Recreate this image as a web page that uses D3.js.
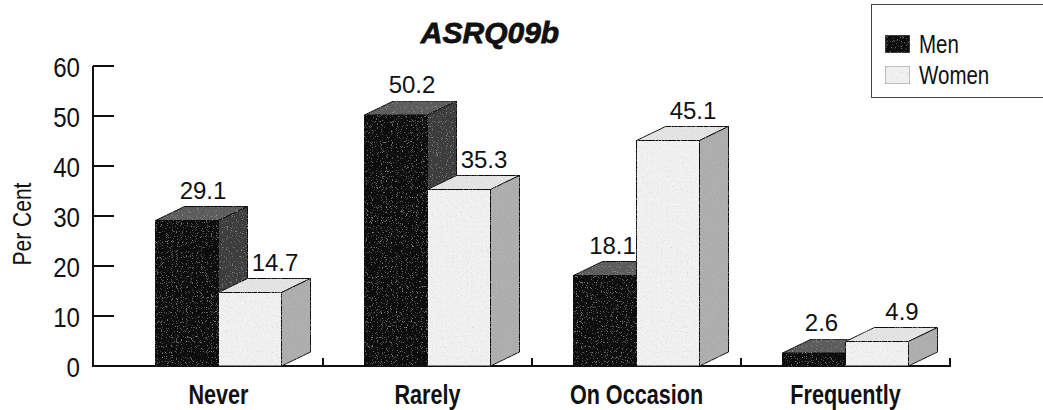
<!DOCTYPE html>
<html>
<head>
<meta charset="utf-8">
<script src="https://cdn.jsdelivr.net/npm/d3@7/dist/d3.min.js"></script>
<style>
  html, body { margin: 0; padding: 0; background: #fff; }
  svg { display: block; }
  text { font-family: "Liberation Sans", Arial, Helvetica, sans-serif; }
</style>
</head>
<body>
<svg id="chart" width="1043" height="410"></svg>
<script>
// Survey item ASRQ09b: share of respondents per answer, by sex
const categories = ["Never", "Rarely", "On Occasion", "Frequently"];
const seriesNames = ["Men", "Women"];
const menValues = [29.1, 50.2, 18.1, 2.6];
const womenValues = [14.7, 35.3, 45.1, 4.9];
const yTicks = [0, 10, 20, 30, 40, 50, 60];
const chartTitle = "ASRQ09b";
const yLabel = "Per Cent";

const svg = d3.select("#chart");

// squeeze text horizontally to mimic a condensed typeface
function condense(sel, k) {
  sel.each(function () {
    const w = this.getComputedTextLength();
    d3.select(this).attr("textLength", w * k).attr("lengthAdjust", "spacingAndGlyphs");
  });
}

// grain filter giving the faces a printed, speckled look
const defs = svg.append("defs");
function grain(id, seed, tone, strength, cut) {
  const f = defs.append("filter").attr("id", id)
    .attr("x", 0).attr("y", 0).attr("width", 1).attr("height", 1);
  f.append("feTurbulence").attr("type", "fractalNoise")
    .attr("baseFrequency", 1.2).attr("numOctaves", 1).attr("seed", seed).attr("result", "noise");
  f.append("feColorMatrix").attr("in", "noise").attr("type", "matrix")
    .attr("values", `0 0 0 0 ${tone}  0 0 0 0 ${tone}  0 0 0 0 ${tone}  ${strength} 0 0 0 ${-strength * cut}`)
    .attr("result", "specks");
  f.append("feComposite").attr("in", "specks").attr("in2", "SourceGraphic").attr("operator", "in").attr("result", "clipped");
  const m = f.append("feMerge");
  m.append("feMergeNode").attr("in", "SourceGraphic");
  m.append("feMergeNode").attr("in", "clipped");
}
grain("grainDark", 4, 0.45, 3, 0.6);
grain("grainLight", 7, 0.55, 2, 0.55);

const x = d3.scaleBand().domain(categories).range([114, 950]).paddingInner(0).paddingOuter(0);
const y = d3.scaleLinear().domain([0, 60]).range([366, 66]);

const barW = 63;          // front face width
const dx = 29, dy = -14;  // 3D depth offset

const styles = {
  Men:   { front: "#111111", top: "#5c5c5c", side: "#3c3c3c", stroke: "#111", filter: "url(#grainDark)" },
  Women: { front: "#f1f1f1", top: "#e4e4e4", side: "#adadad", stroke: "#111", filter: "url(#grainLight)" }
};

const rows = categories.map((c, i) => ({ cat: c, Men: menValues[i], Women: womenValues[i] }));

// axes
const axisG = svg.append("g");
axisG.append("line").attr("x1", 93).attr("x2", 93).attr("y1", y(60)).attr("y2", y(0))
  .attr("stroke", "#111").attr("stroke-width", 2);
axisG.append("line").attr("x1", 92).attr("x2", x.range()[1] + 1).attr("y1", y(0)).attr("y2", y(0))
  .attr("stroke", "#111").attr("stroke-width", 2);

const yAxis = d3.axisLeft(y).tickValues(yTicks).tickSize(0).tickPadding(13);
const yG = svg.append("g").attr("transform", "translate(93,0)").call(yAxis);
yG.select(".domain").remove();
yG.selectAll("text").attr("font-family", null).attr("font-size", 28).attr("fill", "#111").attr("dy", "0.36em");
condense(yG.selectAll("text"), 0.86);
// tick marks point into the plot
svg.append("g").selectAll("line").data(yTicks).join("line")
  .attr("x1", 93).attr("x2", 114).attr("y1", d => y(d)).attr("y2", d => y(d))
  .attr("stroke", "#111").attr("stroke-width", 2);

// category boundary ticks on the base line
const bounds = categories.slice(1).map(c => x(c)).concat([x.range()[1]]);
svg.append("g").selectAll("line").data(bounds).join("line")
  .attr("x1", d => d).attr("x2", d => d).attr("y1", y(0)).attr("y2", y(0) - 8)
  .attr("stroke", "#111").attr("stroke-width", 2);

// category labels
const catText = svg.append("g").selectAll("text").data(categories).join("text")
  .attr("x", d => x(d) + x.bandwidth() / 2)
  .attr("y", 404)
  .attr("text-anchor", "middle")
  .attr("font-size", 27).attr("font-weight", "bold").attr("fill", "#111")
  .text(d => d);
condense(catText, 0.8);

// bars
const barsG = svg.append("g");
function drawBar(g, x0, v, st) {
  const yt = y(v), yb = y(0);
  g.append("polygon")
    .attr("points", [[x0, yt], [x0 + dx, yt + dy], [x0 + barW + dx, yt + dy], [x0 + barW, yt]].join(" "))
    .attr("fill", st.top).attr("stroke", st.stroke).attr("stroke-width", 1).attr("filter", st.filter);
  g.append("polygon")
    .attr("points", [[x0 + barW, yt], [x0 + barW + dx, yt + dy], [x0 + barW + dx, yb + dy], [x0 + barW, yb]].join(" "))
    .attr("fill", st.side).attr("stroke", st.stroke).attr("stroke-width", 1).attr("filter", st.filter);
  g.append("rect")
    .attr("x", x0).attr("y", yt).attr("width", barW).attr("height", yb - yt)
    .attr("fill", st.front).attr("stroke", st.stroke).attr("stroke-width", 1).attr("filter", st.filter);
}

rows.forEach(r => {
  const cx = x(r.cat) + x.bandwidth() / 2;
  const g = barsG.append("g");
  drawBar(g, cx - barW, r.Men, styles.Men);
  drawBar(g, cx, r.Women, styles.Women);
});

// value labels
const fmt = d3.format(".1f");
rows.forEach(r => {
  const cx = x(r.cat) + x.bandwidth() / 2;
  let mx = cx - barW / 2 + 16;
  if (r.Women > r.Men) mx = Math.min(mx, cx - 24);
  svg.append("text").attr("x", mx).attr("y", y(r.Men) - 22)
    .attr("text-anchor", "middle")
    .attr("font-size", 24).attr("fill", "#111").text(fmt(r.Men));
  svg.append("text").attr("x", cx + barW / 2 + 25).attr("y", y(r.Women) - 22)
    .attr("text-anchor", "middle")
    .attr("font-size", 24).attr("fill", "#111").text(fmt(r.Women));
});

// y-axis title
const yt = svg.append("text")
  .attr("transform", "translate(31,224) rotate(-90)")
  .attr("text-anchor", "middle").attr("font-size", 25).attr("fill", "#111")
  .text(yLabel);
condense(yt, 0.84);

// chart title
svg.append("text")
  .attr("x", 490).attr("y", 43)
  .attr("text-anchor", "middle")
  .attr("font-size", 30).attr("font-weight", "bold").attr("font-style", "italic").attr("fill", "#111")
  .attr("stroke", "#111").attr("stroke-width", 0.8)
  .text(chartTitle);

// legend
const lg = svg.append("g");
lg.append("rect").attr("x", 871.5).attr("y", 4.5).attr("width", 200).attr("height", 93)
  .attr("fill", "#fff").attr("stroke", "#444").attr("stroke-width", 1);
seriesNames.forEach((s, i) => {
  const yy = 35 + i * 31;
  lg.append("rect").attr("x", 885).attr("y", yy).attr("width", 25).attr("height", 18)
    .attr("fill", styles[s].front).attr("stroke", "#777").attr("stroke-width", 0.8).attr("filter", styles[s].filter);
  const t = lg.append("text").attr("x", 919).attr("y", yy + 9).attr("dy", "0.36em")
    .attr("font-size", 25).attr("fill", "#111").text(s);
  condense(t, 0.82);
});
</script>
</body>
</html>
